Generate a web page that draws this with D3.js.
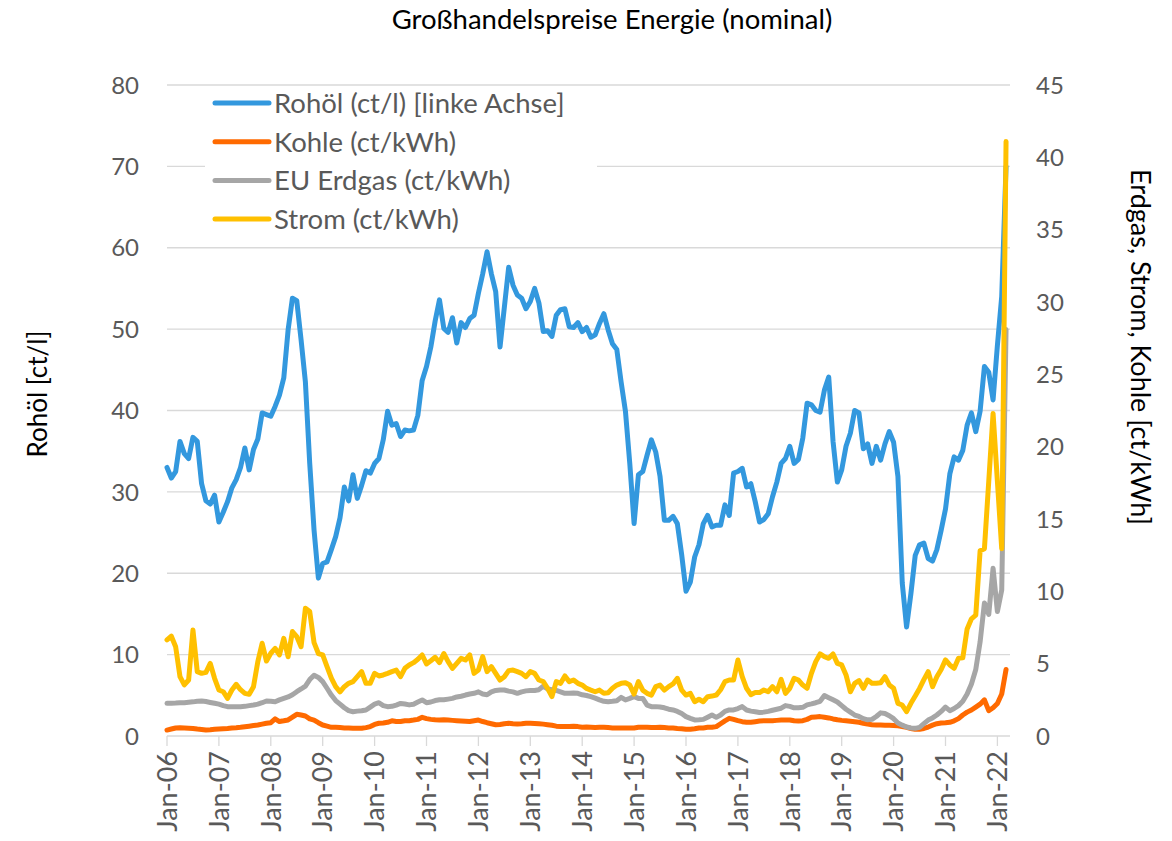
<!DOCTYPE html>
<html>
<head>
<meta charset="utf-8">
<script src="https://cdn.jsdelivr.net/npm/d3@7"></script>
<style>
body { margin: 0; background: #fff; }
text { font-family: Lato, "Open Sans", sans-serif; }
</style>
</head>
<body>
<div id="chart"></div>
<script>
var w = 1172;
var h = 841;

// monthly values, Jan-06 .. Mar-22
var rohoel = [ // ct/l, left axis
  33.0, 31.7, 32.5, 36.2, 34.7, 34.1, 36.7, 36.2, 31.0, 28.9, 28.5, 29.6,
  26.3, 27.5, 28.8, 30.5, 31.5, 33.0, 35.4, 32.7, 35.2, 36.5, 39.7, 39.5,
  39.3, 40.5, 41.9, 44.0, 49.9, 53.8, 53.5, 48.7, 43.5, 33.5, 25.3, 19.4,
  21.2, 21.4, 22.9, 24.5, 26.8, 30.6, 28.9, 32.1, 29.2, 30.8, 32.6, 32.3,
  33.5, 34.1, 36.4, 39.9, 38.2, 38.4, 36.8, 37.6, 37.5, 37.6, 39.4, 43.7,
  45.4, 47.8, 51.0, 53.6, 50.1, 49.6, 51.4, 48.3, 50.8, 50.2, 51.3, 51.7,
  54.4, 56.8, 59.5, 56.8, 54.6, 47.8, 52.7, 57.6, 55.4, 54.2, 53.8, 52.5,
  53.4, 55.0, 53.2, 49.7, 49.8, 49.1, 51.7, 52.4, 52.5, 50.3, 50.2, 50.8,
  49.7, 50.2, 49.0, 49.3, 50.7, 51.9, 49.9, 48.2, 47.5, 43.5, 39.9, 33.5,
  26.1, 32.1, 32.5, 34.5, 36.4, 34.9, 31.9, 26.5, 26.5, 27.0, 26.1, 22.3,
  17.8, 18.9, 22.0, 23.5, 26.1, 27.1, 25.7, 25.9, 25.9, 28.4, 27.1, 32.3,
  32.5, 32.9, 30.6, 31.0, 28.8, 26.3, 26.6, 27.3, 29.4, 31.2, 33.5, 34.1,
  35.6, 33.5, 34.0, 36.6, 40.9, 40.7, 40.0, 39.8, 42.5, 44.1, 36.2, 31.2,
  32.7, 35.6, 37.2, 40.0, 39.7, 35.3, 35.9, 33.5, 35.6, 33.9, 35.9, 37.4,
  36.1, 31.9, 18.8, 13.4, 17.5, 22.2, 23.5, 23.7, 21.8, 21.5, 22.9, 25.3,
  27.9, 32.2, 34.3, 33.9, 35.1, 38.2, 39.7, 37.4, 39.9, 45.4, 44.7, 41.3,
  48.0, 54.0, 70.0
];
var kohle = [ // ct/kWh, right axis
  0.41, 0.48, 0.55, 0.57, 0.56, 0.54, 0.52, 0.48, 0.45, 0.42, 0.43, 0.46,
  0.48, 0.50, 0.52, 0.55, 0.57, 0.60, 0.64, 0.68, 0.72, 0.76, 0.82, 0.88,
  0.92, 1.18, 1.00, 1.05, 1.11, 1.30, 1.50, 1.45, 1.38, 1.18, 1.10, 0.92,
  0.76, 0.68, 0.60, 0.60, 0.58, 0.56, 0.55, 0.53, 0.53, 0.53, 0.58, 0.65,
  0.80, 0.88, 0.90, 0.95, 1.05, 1.00, 1.00, 1.05, 1.06, 1.10, 1.15, 1.29,
  1.20, 1.15, 1.12, 1.10, 1.12, 1.10, 1.08, 1.06, 1.04, 1.02, 1.00, 1.05,
  1.10, 1.00, 0.92, 0.85, 0.78, 0.80, 0.85, 0.88, 0.85, 0.83, 0.85, 0.88,
  0.88, 0.87, 0.85, 0.82, 0.78, 0.74, 0.68, 0.65, 0.65, 0.66, 0.68, 0.65,
  0.60, 0.62, 0.60, 0.58, 0.60, 0.60, 0.58, 0.56, 0.56, 0.56, 0.55, 0.55,
  0.55, 0.60, 0.60, 0.60, 0.58, 0.58, 0.60, 0.58, 0.56, 0.55, 0.52, 0.50,
  0.46, 0.46, 0.50, 0.55, 0.56, 0.60, 0.60, 0.65, 0.85, 1.05, 1.22, 1.15,
  1.06, 0.99, 0.95, 0.95, 0.99, 1.03, 1.06, 1.06, 1.06, 1.08, 1.10, 1.11,
  1.11, 1.05, 1.03, 1.06, 1.15, 1.29, 1.32, 1.34, 1.30, 1.25, 1.18, 1.12,
  1.08, 1.05, 1.02, 0.99, 0.95, 0.88, 0.82, 0.78, 0.76, 0.76, 0.75, 0.74,
  0.72, 0.70, 0.66, 0.60, 0.52, 0.46, 0.46, 0.52, 0.62, 0.75, 0.85, 0.90,
  0.92, 0.95, 1.05, 1.20, 1.45, 1.65, 1.80, 2.00, 2.20, 2.50, 1.75, 1.95,
  2.25, 2.90, 4.60
];
var erdgas = [ // ct/kWh, right axis
  2.26, 2.27, 2.28, 2.30, 2.30, 2.33, 2.36, 2.40, 2.42, 2.38, 2.32, 2.26,
  2.20, 2.10, 2.03, 2.03, 2.03, 2.03, 2.05, 2.10, 2.14, 2.20, 2.30, 2.42,
  2.40, 2.37, 2.50, 2.60, 2.70, 2.85, 3.06, 3.25, 3.45, 3.90, 4.20, 4.05,
  3.76, 3.30, 2.83, 2.45, 2.20, 1.95, 1.75, 1.68, 1.72, 1.75, 1.80, 2.00,
  2.20, 2.30, 2.10, 2.03, 2.05, 2.14, 2.25, 2.21, 2.15, 2.20, 2.35, 2.49,
  2.30, 2.35, 2.45, 2.50, 2.50, 2.55, 2.60, 2.70, 2.75, 2.83, 2.90, 2.95,
  3.05, 2.90, 2.85, 3.05, 3.15, 3.18, 3.18, 3.10, 3.05, 2.95, 3.05, 3.12,
  3.15, 3.15, 3.20, 3.45, 3.25, 3.20, 3.15, 3.05, 2.95, 2.95, 2.98, 2.95,
  2.85, 2.80, 2.72, 2.62, 2.50, 2.40, 2.37, 2.40, 2.44, 2.67, 2.49, 2.60,
  2.72, 2.60, 2.60, 2.14, 2.03, 2.03, 2.00, 1.95, 1.85, 1.80, 1.70, 1.55,
  1.34, 1.22, 1.11, 1.12, 1.15, 1.30, 1.45, 1.29, 1.45, 1.70, 1.80, 1.80,
  1.90, 2.03, 1.80, 1.72, 1.68, 1.63, 1.65, 1.70, 1.78, 1.85, 1.92, 2.10,
  2.05, 1.95, 1.95, 1.98, 2.15, 2.22, 2.30, 2.40, 2.80, 2.65, 2.50, 2.35,
  2.10, 1.85, 1.65, 1.45, 1.35, 1.20, 1.12, 1.15, 1.35, 1.60, 1.55, 1.40,
  1.20, 0.90, 0.75, 0.62, 0.55, 0.53, 0.60, 0.85, 1.10, 1.25, 1.45, 1.70,
  2.00, 1.75, 1.90, 2.10, 2.40, 2.90, 3.60, 4.60, 6.50, 9.20, 8.40, 11.60,
  8.60, 10.10, 28.10
];
var strom = [ // ct/kWh, right axis
  6.64, 6.90, 6.17, 4.10, 3.53, 3.87, 7.33, 4.45, 4.33, 4.40, 5.02, 3.99,
  3.18, 3.06, 2.60, 3.18, 3.57, 3.20, 2.95, 2.88, 3.41, 5.14, 6.41, 5.18,
  5.72, 6.06, 5.60, 6.75, 5.48, 7.22, 6.87, 6.17, 8.83, 8.60, 6.45, 5.70,
  5.60, 4.80, 4.00, 3.41, 3.05, 3.41, 3.64, 3.76, 4.10, 4.45, 3.64, 3.64,
  4.33, 4.15, 4.22, 4.33, 4.45, 4.56, 4.10, 4.68, 4.91, 5.07, 5.30, 5.60,
  4.98, 5.20, 5.44, 5.07, 5.70, 5.14, 4.68, 5.02, 5.37, 5.25, 5.60, 4.33,
  4.56, 5.49, 4.45, 4.80, 4.33, 3.87, 4.10, 4.52, 4.56, 4.45, 4.33, 4.10,
  4.45, 4.33, 3.87, 3.76, 3.29, 2.72, 3.76, 3.64, 4.15, 3.76, 3.87, 3.64,
  3.52, 3.29, 3.17, 3.06, 3.17, 2.95, 2.99, 3.30, 3.52, 3.64, 3.68, 3.52,
  2.90, 3.76, 3.17, 2.95, 2.83, 3.41, 3.52, 3.17, 3.41, 3.60, 3.99, 3.17,
  2.83, 2.95, 2.37, 2.54, 2.37, 2.72, 2.76, 2.83, 3.20, 3.76, 3.87, 3.87,
  5.25, 4.10, 3.30, 2.86, 3.00, 3.00, 3.18, 3.06, 3.41, 3.06, 3.91, 2.95,
  3.30, 3.99, 3.87, 3.52, 3.30, 4.33, 5.14, 5.67, 5.48, 5.37, 5.67, 5.02,
  4.91, 4.22, 3.06, 3.64, 3.83, 3.30, 3.87, 3.64, 3.64, 3.68, 4.10, 3.53,
  3.30, 2.26, 2.14, 1.68, 2.26, 2.76, 3.29, 3.90, 4.45, 3.41, 4.10, 4.60,
  5.26, 4.91, 4.68, 5.37, 5.40, 7.40, 8.10, 8.35, 12.80, 12.95, 17.60, 22.30,
  17.60, 12.95, 41.10
];

var tickLabels = ["Jan-06", "Jan-07", "Jan-08", "Jan-09", "Jan-10", "Jan-11", "Jan-12", "Jan-13",
  "Jan-14", "Jan-15", "Jan-16", "Jan-17", "Jan-18", "Jan-19", "Jan-20", "Jan-21", "Jan-22"];
var leftTicks = [0, 10, 20, 30, 40, 50, 60, 70, 80];
var rightTicks = [0, 5, 10, 15, 20, 25, 30, 35, 40, 45];

var series = [
  {name: "Rohöl (ct/l) [linke Achse]", values: rohoel, color: "#3398de", axis: "left"},
  {name: "Kohle (ct/kWh)", values: kohle, color: "#ff6a00", axis: "right"},
  {name: "EU Erdgas (ct/kWh)", values: erdgas, color: "#a6a6a6", axis: "right"},
  {name: "Strom (ct/kWh)", values: strom, color: "#ffc000", axis: "right"}
];

var svg = d3.select("#chart")
    .append("svg")
    .attr("width", w)
    .attr("height", h);

var plot = {left: 167, right: 1010, top: 85, bottom: 736};

var x = d3.scaleLinear()
    .domain([0, rohoel.length - 1])
    .range([plot.left, plot.left + (rohoel.length - 1) * 4.325]);
var yLeft = d3.scaleLinear().domain([0, 80]).range([plot.bottom, plot.top]);
var yRight = d3.scaleLinear().domain([0, 45]).range([plot.bottom, plot.top]);

var gridColor = "#d9d9d9",
    labelColor = "#595959";

// gridlines
svg.append("g")
  .selectAll("line")
  .data(leftTicks.slice(1))
  .enter().append("line")
    .attr("x1", plot.left)
    .attr("x2", plot.right)
    .attr("y1", function(d) { return yLeft(d); })
    .attr("y2", function(d) { return yLeft(d); })
    .attr("stroke", gridColor)
    .attr("stroke-width", 1.3);

// x axis line + ticks
svg.append("line")
    .attr("x1", plot.left).attr("x2", plot.right)
    .attr("y1", plot.bottom).attr("y2", plot.bottom)
    .attr("stroke", gridColor)
    .attr("stroke-width", 1.3);

var xTicks = svg.append("g")
  .selectAll("g")
  .data(tickLabels)
  .enter().append("g")
    .attr("transform", function(d, i) { return "translate(" + x(i * 12) + "," + plot.bottom + ")"; });

xTicks.append("line")
    .attr("y1", 0).attr("y2", 10)
    .attr("stroke", gridColor)
    .attr("stroke-width", 1.3);

xTicks.append("text")
    .attr("transform", "rotate(-90)")
    .attr("x", -15)
    .attr("dy", "0.36em")
    .attr("text-anchor", "end")
    .attr("fill", labelColor)
    .style("font-size", "27px")
    .text(function(d) { return d; });

// left axis labels
svg.append("g")
  .selectAll("text")
  .data(leftTicks)
  .enter().append("text")
    .attr("x", 139)
    .attr("y", function(d) { return yLeft(d); })
    .attr("dy", "0.36em")
    .attr("text-anchor", "end")
    .attr("fill", labelColor)
    .style("font-size", "24px")
    .text(function(d) { return d; });

// right axis labels
svg.append("g")
  .selectAll("text")
  .data(rightTicks)
  .enter().append("text")
    .attr("x", 1036)
    .attr("y", function(d) { return yRight(d); })
    .attr("dy", "0.36em")
    .attr("text-anchor", "start")
    .attr("fill", labelColor)
    .style("font-size", "24px")
    .text(function(d) { return d; });

// titles
svg.append("text")
    .attr("x", 612).attr("y", 29)
    .attr("text-anchor", "middle")
    .attr("fill", "#000")
    .style("font-size", "27.5px")
    .text("Großhandelspreise Energie (nominal)");

svg.append("text")
    .attr("transform", "translate(47,394) rotate(-90)")
    .attr("text-anchor", "middle")
    .attr("fill", "#000")
    .style("font-size", "26px")
    .text("Rohöl [ct/l]");

svg.append("text")
    .attr("transform", "translate(1131,347) rotate(90)")
    .attr("text-anchor", "middle")
    .attr("fill", "#000")
    .style("font-size", "27px")
    .text("Erdgas, Strom, Kohle [ct/kWh]");

// lines
series.forEach(function(s) {
  var yScale = s.axis === "left" ? yLeft : yRight;
  var line = d3.line()
    .x(function(d, i) { return x(i); })
    .y(function(d) { return yScale(d); });
  svg.append("path")
      .datum(s.values)
      .attr("fill", "none")
      .attr("stroke", s.color)
      .attr("stroke-width", 5)
      .attr("stroke-linejoin", "round")
      .attr("stroke-linecap", "round")
      .attr("d", line);
});

// legend
var legend = svg.append("g");
legend.append("rect")
    .attr("x", 205).attr("y", 88)
    .attr("width", 392).attr("height", 148)
    .attr("fill", "#fff");

var items = legend.selectAll("g")
  .data(series)
  .enter().append("g")
    .attr("transform", function(d, i) { return "translate(215," + (103 + i * 38.7) + ")"; });

items.append("line")
    .attr("x1", 0).attr("x2", 54)
    .attr("stroke", function(d) { return d.color; })
    .attr("stroke-width", 5)
    .attr("stroke-linecap", "round");

items.append("text")
    .attr("x", 59)
    .attr("dy", "0.36em")
    .attr("fill", labelColor)
    .style("font-size", "27.5px")
    .text(function(d) { return d.name; });
</script>
</body>
</html>
